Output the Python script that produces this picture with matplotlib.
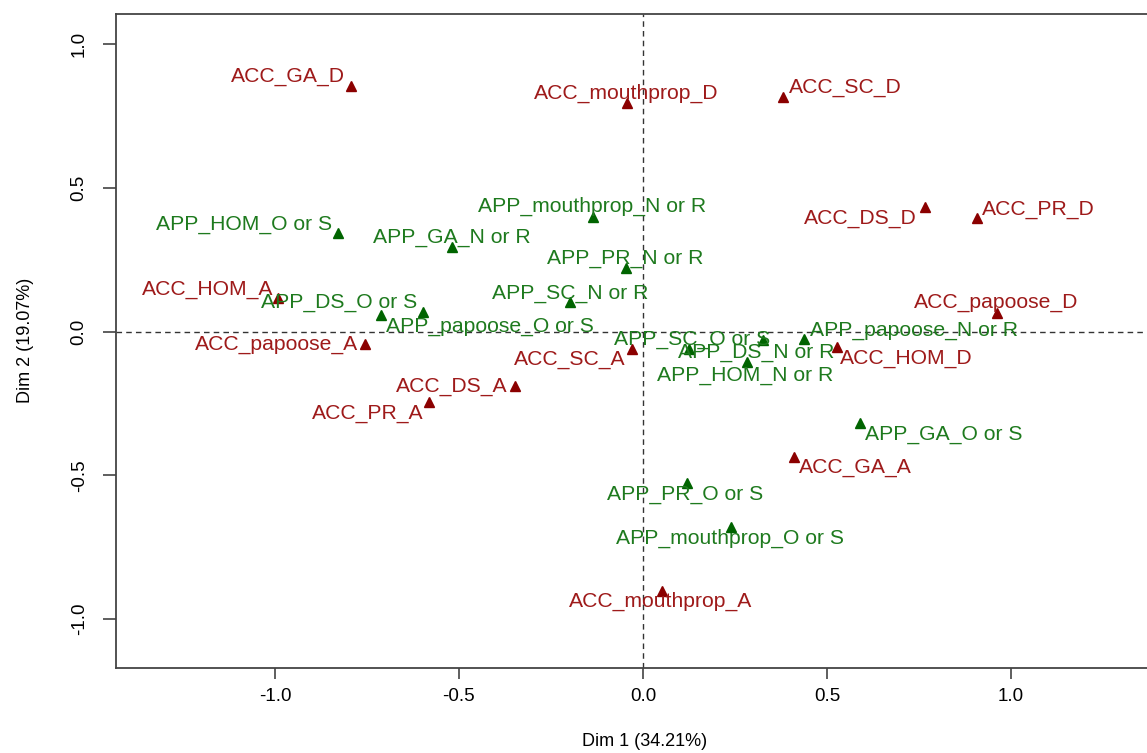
import matplotlib
matplotlib.use("Agg")
import matplotlib.pyplot as plt

plt.rcParams['font.family'] = ['Liberation Sans', 'DejaVu Sans']

# ── Data: MCA category coordinates (Dim 1, Dim 2) ──────────────
acc_labels = ['ACC_GA_D', 'ACC_mouthprop_D', 'ACC_SC_D', 'ACC_DS_D', 'ACC_PR_D',
              'ACC_papoose_D', 'ACC_HOM_D', 'ACC_HOM_A', 'ACC_papoose_A', 'ACC_SC_A',
              'ACC_DS_A', 'ACC_PR_A', 'ACC_GA_A', 'ACC_mouthprop_A']
acc_x = [-0.792, -0.044, 0.381, 0.766, 0.909, 0.963, 0.528,
         -0.991, -0.754, -0.029, -0.348, -0.581, 0.410, 0.051]
acc_y = [0.855, 0.794, 0.817, 0.433, 0.394, 0.066, -0.052,
         0.116, -0.044, -0.060, -0.189, -0.243, -0.435, -0.901]

app_labels = ['APP_HOM_O or S', 'APP_DS_O or S', 'APP_papoose_O or S', 'APP_GA_N or R',
              'APP_mouthprop_N or R', 'APP_PR_N or R', 'APP_SC_N or R', 'APP_SC_O or S',
              'APP_DS_N or R', 'APP_HOM_N or R', 'APP_papoose_N or R', 'APP_GA_O or S',
              'APP_PR_O or S', 'APP_mouthprop_O or S']
app_x = [-0.828, -0.597, -0.711, -0.520, -0.135, -0.046, -0.198,
         0.327, 0.125, 0.282, 0.438, 0.590, 0.120, 0.239]
app_y = [0.342, 0.070, 0.058, 0.294, 0.400, 0.220, 0.104,
         -0.029, -0.061, -0.106, -0.026, -0.319, -0.525, -0.680]

# label placement (alignment, dx px, dy px) - layout only
acc_place = [('right', -7, 9), ('center', -1, 10), ('left', 6, 9), ('right', -8, -11),
             ('left', 5, 9), ('center', -1, 10), ('left', 3, -12), ('right', -5, 9),
             ('right', -7, 0), ('right', -7, -11), ('right', -7, -1), ('right', -6, -12),
             ('left', 5, -11), ('center', -1, -11)]
app_place = [('right', -6, 9), ('right', -6, 9), ('left', 5, -12), ('center', 0, 10),
             ('center', -1, 10), ('center', -1, 10), ('center', 0, 8), ('right', 7, 0),
             ('left', -11, -3), ('center', -2, -13), ('left', 6, 9), ('left', 5, -11),
             ('center', -2, -12), ('center', -1, -11)]

fig = plt.figure(figsize=(11.47, 7.53), dpi=100)
ax = fig.add_axes([116 / 1147, 85 / 753, 1 - 116 / 1147, 654 / 753])

ax.axhline(0, color='#333333', lw=1, dashes=(4, 3), zorder=1)
ax.axvline(0, color='#333333', lw=1, dashes=(4, 3), zorder=1)

ax.plot(acc_x, acc_y, '^', color='#8b0000', ms=7.5, ls='none', zorder=3)
ax.plot(app_x, app_y, '^', color='#006400', ms=7.5, ls='none', zorder=3)

for lab, x, y, (ha, dx, dy) in zip(acc_labels, acc_x, acc_y, acc_place):
    ax.annotate(lab, (x, y), xytext=(dx, dy), textcoords='offset pixels',
                ha=ha, va='center', fontsize=15.2, color='#9e1a1a', zorder=4)
for lab, x, y, (ha, dx, dy) in zip(app_labels, app_x, app_y, app_place):
    ax.annotate(lab, (x, y), xytext=(dx, dy), textcoords='offset pixels',
                ha=ha, va='center', fontsize=15.2, color='#1e7a1e', zorder=4)

ax.set_xlim(-1.432, 1.370)
ax.set_ylim(-1.170, 1.105)
ax.set_xticks([-1.0, -0.5, 0.0, 0.5, 1.0])
ax.set_yticks([-1.0, -0.5, 0.0, 0.5, 1.0])
ax.set_xticklabels(['-1.0', '-0.5', '0.0', '0.5', '1.0'])
ax.set_yticklabels(['-1.0', '-0.5', '0.0', '0.5', '1.0'], rotation=90, va='center')
ax.tick_params(axis='x', length=7.7, width=1.1, color='#333333', labelsize=13.5, pad=7)
ax.tick_params(axis='y', length=9.4, width=1.1, color='#333333', labelsize=13.5, pad=11)

for side in ['left', 'bottom', 'top']:
    ax.spines[side].set_color('#444444')
    ax.spines[side].set_linewidth(1.3)
ax.spines['right'].set_visible(False)

fig.text(645 / 1147, 1 - 741 / 753, 'Dim 1 (34.21%)', ha='center', va='center', fontsize=13)
fig.text(25 / 1147, 1 - 340 / 753, 'Dim 2 (19.07%)', ha='center', va='center',
         rotation=90, fontsize=13)

plt.savefig('out.png', dpi=100)
